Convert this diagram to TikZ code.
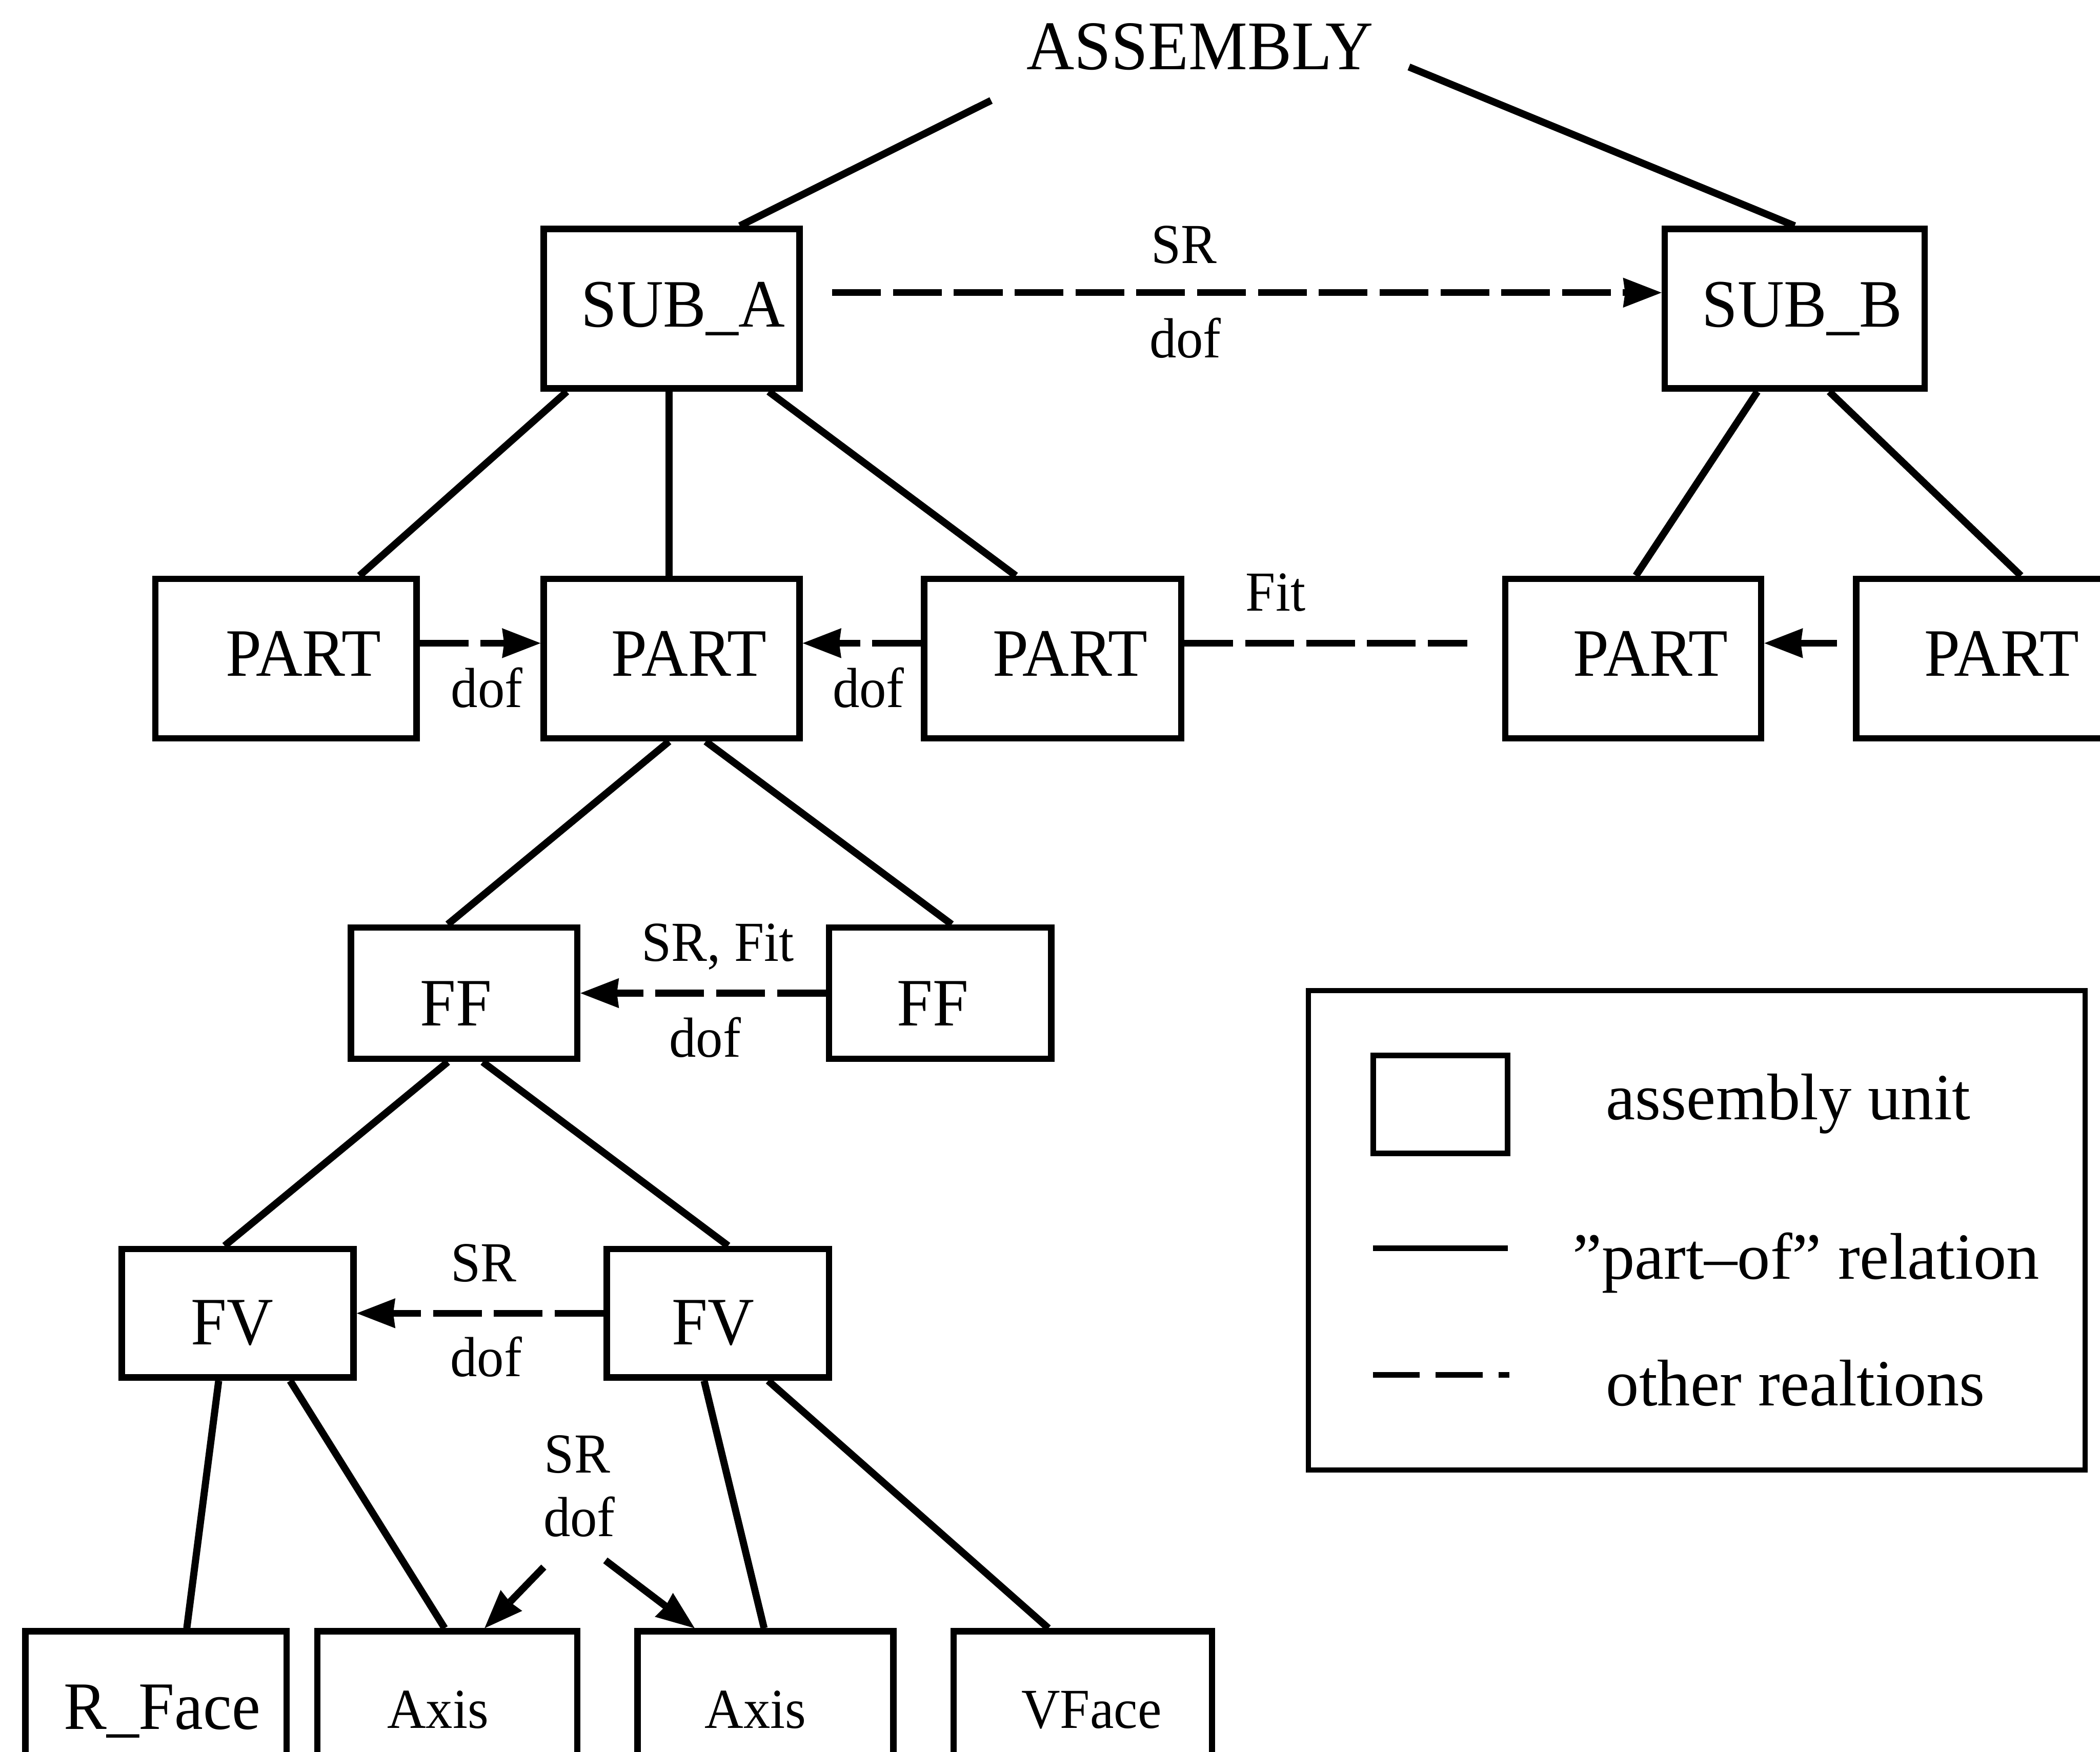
\documentclass[tikz,border=0pt]{standalone}
\usepackage{fontspec}
\setmainfont{Liberation Serif}
\newfontfamily\condserif{Liberation Serif}[FakeStretch=0.95]
\usetikzlibrary{arrows.meta,calc}

\tikzset{
  unitbox/.style={draw, line width=3.4pt, inner sep=0pt, text depth=0pt,
    font=\condserif\fontsize{36}{36}\selectfont},
  sz/.style 2 args={minimum width=#1*0.025cm, minimum height=#2*0.025cm},
  tx/.style={execute at begin node={\hspace{#1}}},
  partof/.style={line width=3.8pt},
  rel/.style={line width=3.6pt, dash pattern=on 0.91cm off 0.225cm},
  tip/.style={-{Stealth[length=0.72cm,width=0.56cm,inset=0.04cm,line width=0pt]}},
  relarrow/.style={rel, tip},
  solidarrow/.style={partof, tip},
  lbl/.style={font=\condserif\fontsize{30}{30}\selectfont, inner sep=0pt, anchor=base},
  legendtext/.style={font=\fontsize{35}{35}\selectfont, inner sep=0pt, anchor=base west},
}

\begin{document}
\begin{tikzpicture}[x=0.025cm, y=-0.025cm]
\useasboundingbox (0,0) rectangle (1568,1308);
\fill[white] (0,0) rectangle (1568,1308);
\clip (0,0) rectangle (1568,1308);

% root
\node[font=\condserif\fontsize{37}{37}\selectfont, inner sep=0pt, anchor=base] (asm) at (896,52) {ASSEMBLY};
\coordinate (asmL) at (740,75);
\coordinate (asmR) at (1052,50);

% sub-assemblies
\node[unitbox, sz={191}{119}, text height=0.67cm, tx=0.425cm] (subA) at (501.5,230.5) {SUB\_A};
\node[unitbox, sz={194}{119}, text height=0.67cm, tx=0.275cm] (subB) at (1340,230.5) {SUB\_B};

% parts
\node[unitbox, sz={195}{119}, text height=0.65cm, tx=0.65cm] (part1) at (213.5,491.7) {PART};
\node[unitbox, sz={191}{119}, text height=0.65cm, tx=0.65cm] (part2) at (501.5,491.7) {PART};
\node[unitbox, sz={192}{119}, text height=0.65cm, tx=0.65cm] (part3) at (786,491.7) {PART};
\node[unitbox, sz={191}{119}, text height=0.65cm, tx=0.65cm] (part4) at (1219.5,491.7) {PART};
\node[unitbox, sz={191}{119}, text height=0.65cm, tx=0.65cm] (part5) at (1481.5,491.7) {PART};

% form features
\node[unitbox, sz={169}{98}, text height=1.21cm, tx=-0.3cm] (ff1) at (346.5,741.5) {FF};
\node[unitbox, sz={166}{98}, text height=1.21cm, tx=-0.275cm] (ff2) at (702,741.5) {FF};

% feature volumes
\node[unitbox, sz={173}{96}, text height=1.175cm, tx=-0.2cm] (fv1) at (177.5,980.5) {FV};
\node[unitbox, sz={166}{96}, text height=1.175cm, tx=-0.175cm] (fv2) at (536,980.5) {FV};

% geometric elements
\node[unitbox, sz={195}{118}, text height=0.7cm, tx=0.225cm] (rface) at (116.5,1277) {R\_Face};
\node[unitbox, sz={194}{118}, text height=0.67cm, tx=-0.35cm,
  font=\condserif\fontsize{30}{30}\selectfont] (axisA) at (334,1277) {Axis};
\node[unitbox, sz={191}{118}, text height=0.67cm, tx=-0.375cm,
  font=\condserif\fontsize{30}{30}\selectfont] (axisB) at (571.5,1277) {Axis};
\node[unitbox, sz={193}{118}, text height=0.67cm, tx=0.325cm,
  font=\condserif\fontsize{30}{30}\selectfont] (vface) at (808.5,1277) {VFace};

% part-of relations
\draw[partof] (asmL) -- ($(subA.north west)!0.76!(subA.north east)$);
\draw[partof] (asmR) -- ($(subB.north west)!0.50!(subB.north east)$);
\draw[partof] ($(subA.south west)!0.10!(subA.south east)$) -- ($(part1.north west)!0.775!(part1.north east)$);
\draw[partof] ($(subA.south west)!0.49!(subA.south east)$) -- ($(part2.north west)!0.49!(part2.north east)$);
\draw[partof] ($(subA.south west)!0.87!(subA.south east)$) -- ($(part3.north west)!0.36!(part3.north east)$);
\draw[partof] ($(subB.south west)!0.36!(subB.south east)$) -- ($(part4.north west)!0.51!(part4.north east)$);
\draw[partof] ($(subB.south west)!0.63!(subB.south east)$) -- ($(part5.north west)!0.64!(part5.north east)$);
\draw[partof] ($(part2.south west)!0.49!(part2.south east)$) -- ($(ff1.north west)!0.43!(ff1.north east)$);
\draw[partof] ($(part2.south west)!0.63!(part2.south east)$) -- ($(ff2.north west)!0.55!(ff2.north east)$);
\draw[partof] ($(ff1.south west)!0.43!(ff1.south east)$) -- ($(fv1.north west)!0.445!(fv1.north east)$);
\draw[partof] ($(ff1.south west)!0.58!(ff1.south east)$) -- ($(fv2.north west)!0.545!(fv2.north east)$);
\draw[partof] ($(fv1.south west)!0.42!(fv1.south east)$) -- ($(rface.north west)!0.615!(rface.north east)$);
\draw[partof] ($(fv1.south west)!0.72!(fv1.south east)$) -- ($(axisA.north west)!0.49!(axisA.north east)$);
\draw[partof] ($(fv2.south west)!0.44!(fv2.south east)$) -- ($(axisB.north west)!0.495!(axisB.north east)$);
\draw[partof] ($(fv2.south west)!0.72!(fv2.south east)$) -- ($(vface.north west)!0.37!(vface.north east)$);

% other relations
\draw[relarrow] ($(subA.east)+(22,-12)$) -- ($(subB.west)+(0,-12)$);
\node[lbl] (srAB) at (884,196.5) {SR};
\node[lbl] (dofAB) at (885,267) {dof};

\draw[relarrow] ($(part1.east)+(0,-11.5)$) -- ($(part2.west)+(0,-11.5)$);
\node[lbl] (dof12) at (363.5,528) {dof};
\draw[relarrow] ($(part3.west)+(0,-11.5)$) -- ($(part2.east)+(0,-11.5)$);
\node[lbl] (dof32) at (648.5,528) {dof};
\draw[rel] ($(part3.east)+(0,-11.5)$) -- ($(part4.west)+(-26,-11.5)$);
\node[lbl] (fit34) at (952.5,456) {Fit};
\draw[relarrow] ($(part5.west)+(-12,-11.5)$) -- ($(part4.east)+(0,-11.5)$);

\draw[relarrow] (ff2.west) -- (ff1.east);
\node[lbl] (srfit) at (536,717.5) {SR, Fit};
\node[lbl] (dofFF) at (526.5,789) {dof};

\draw[relarrow] (fv2.west) -- (fv1.east);
\node[lbl] (srFV) at (361,957) {SR};
\node[lbl] (dofFV) at (363,1027.5) {dof};

\node[lbl] (srAx) at (431,1099.5) {SR};
\node[lbl] (dofAx) at (432.5,1147) {dof};
\coordinate (axL) at (406,1170);
\coordinate (axR) at (452,1165);
\draw[solidarrow] (axL) -- ($(axisA.north west)!0.64!(axisA.north east)$);
\draw[solidarrow] (axR) -- ($(axisB.north west)!0.23!(axisB.north east)$);

% legend
\node[draw, line width=2.8pt, sz={580}{358}] (legend) at (1267,918.5) {};
\node[draw, line width=3pt, sz={100}{73}] (keybox) at (1075.5,824.5) {};
\node[legendtext] (keyunit) at (1199,836) {assembly unit};
\coordinate (keyLa) at (1025,932);
\coordinate (keyLb) at (1126,932);
\draw[line width=3pt] (keyLa) -- (keyLb);
\node[legendtext] (keypart) at (1174,955) {”part–of” relation};
\coordinate (keyDa) at (1025,1026.5);
\coordinate (keyDb) at (1127,1026.5);
\draw[line width=3pt, dash pattern=on 0.875cm off 0.3cm] (keyDa) -- (keyDb);
\node[legendtext] (keyother) at (1199,1049.5) {other realtions};
\end{tikzpicture}
\end{document}
